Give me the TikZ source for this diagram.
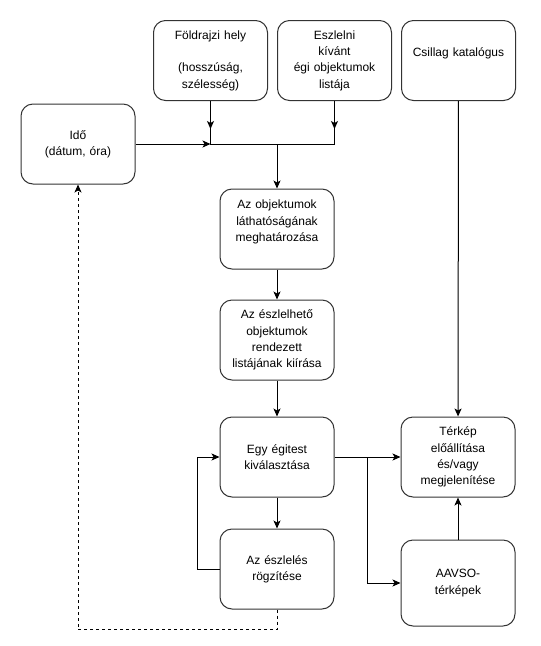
\documentclass[tikz,border=0pt]{standalone}
\usepackage{fontspec}
\setmainfont{Liberation Sans}
\usepackage{tikz}
\usetikzlibrary{positioning, arrows.meta}
\tikzstyle{stepbox} = [rectangle, rounded corners=12pt, minimum width=114pt, minimum height=80pt, text width=104pt, inner sep=5pt, align=center, draw=black!80, line width=1pt, font=\fontsize{12}{16.3}\selectfont]
\tikzstyle{arrow} = [line width=1pt, -{Stealth[length=8pt, width=7pt, inset=2pt]}]
\tikzstyle{line} = [line width=1pt]

\begin{document}
\begin{tikzpicture}[x=1pt, y=-1pt]
            \useasboundingbox (0,0) rectangle (541,646);
            \node (fold) [stepbox] at (210.5,60.5) {Földrajzi hely\\ \mbox{}\\ (hosszúság,\\ szélesség)};
            \node (eszl) [stepbox, right=9pt of fold] {Eszlelni\\ kívánt\\ égi objektumok\\ listája};
            \node (csillag) [stepbox, right=9pt of eszl] {Csillag katalógus\\ \mbox{}};
            \node (ido) [stepbox] at (78,144) {Idő\\ (dátum, óra)};
            \node (obj) [stepbox] at (277,229) {Az objektumok\\ láthatóságának\\ meghatározása\\ \mbox{}};
            \node (lista) [stepbox, below=30pt of obj] {Az észlelhető\\ objektumok\\ rendezett\\ listájának kiírása};
            \node (egy) [stepbox, below=36pt of lista] {Egy égitest\\ kiválasztása};
            \node (rogz) [stepbox, below=31pt of egy] {Az észlelés\\ rögzítése};
            \node (terkep) [stepbox, right=66pt of egy] {Térkép\\ előállítása\\ és/vagy\\ megjelenítése};
            \node (aavso) [stepbox, below=42pt of terkep, minimum height=86pt] {AAVSO-\\ térképek};

            \coordinate (j1) at (fold.south |- ido.east);
            \coordinate (br) at ([xshift=33pt]egy.east);

            \draw [arrow] (ido.east) -- (j1);
            \draw [arrow] (fold.south) -- ++(0,28);
            \draw [arrow] (eszl.south) -- ++(0,28);
            \draw [line] (fold.south) -- (j1) -- (eszl.south |- j1) -- (eszl.south);
            \draw [arrow] (obj.north |- j1) -- (obj.north);
            \draw [arrow] (obj) -- (lista);
            \draw [arrow] (lista) -- (egy);
            \draw [arrow] (egy) -- (rogz);
            \draw [arrow] (rogz.west) -- ++(-22,0) |- (egy.west);
            \draw [arrow] (egy.east) -- (terkep.west);
            \draw [arrow] (br) |- (aavso.west);
            \draw [arrow] (aavso) -- (terkep);
            \draw [arrow] (csillag) -- (terkep);
            \draw [arrow, dashed] (rogz.south) -- ++(0,20) -| (ido.south);

            \end{tikzpicture}
\end{document}
